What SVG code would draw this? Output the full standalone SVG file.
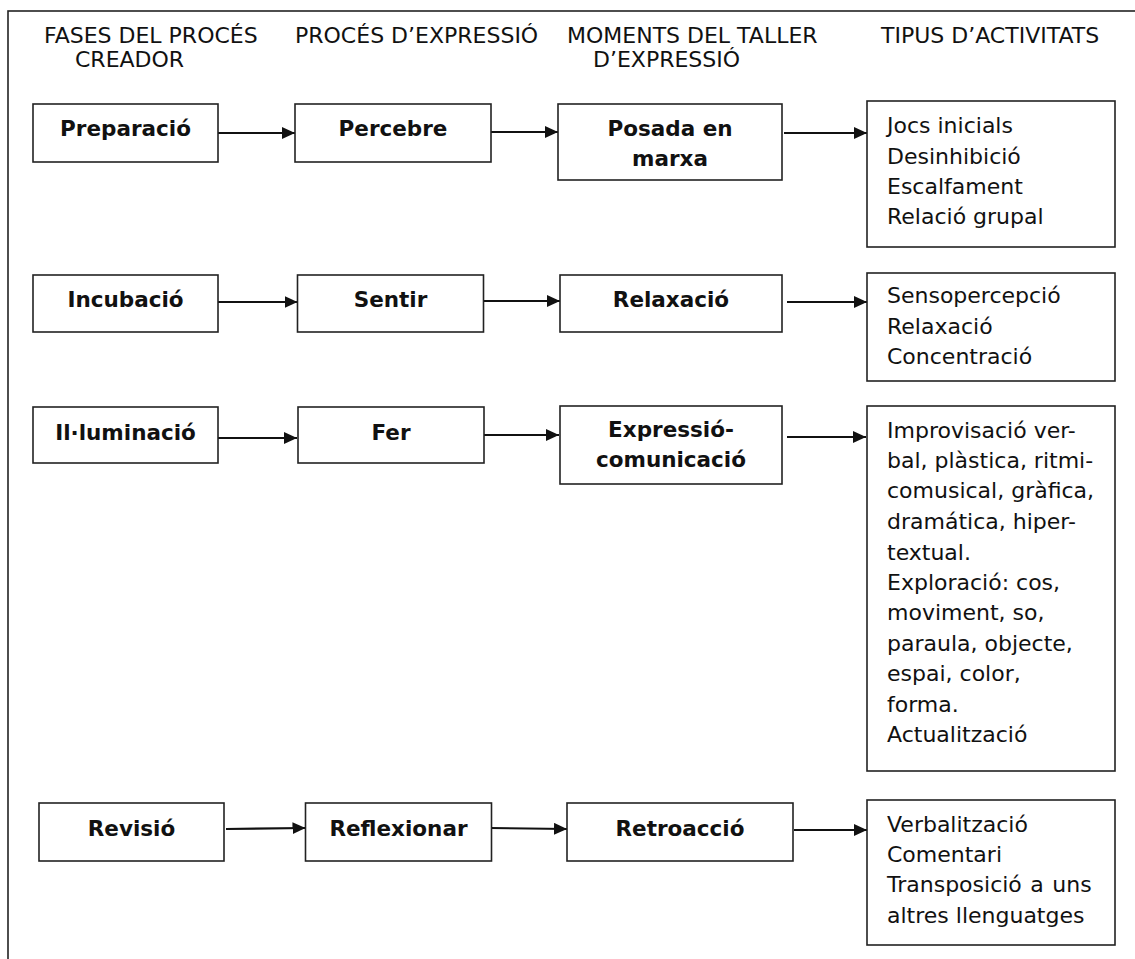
<svg xmlns="http://www.w3.org/2000/svg" width="1135" height="959" viewBox="0 0 1135 959">
<defs>
<style>
text{font-family:"DejaVu Sans",Verdana,"Liberation Sans",sans-serif;font-size:22px;fill:#111}
.b{font-weight:bold;text-anchor:middle;font-size:21.5px}
.box{fill:#fff;stroke:#222;stroke-width:1.6}
.frame{fill:none;stroke:#222;stroke-width:1.6}
.c line{stroke:#111;stroke-width:2.2}
</style>
<marker id="ah" viewBox="0 0 13 12" refX="13" refY="6" markerWidth="13" markerHeight="12" markerUnits="userSpaceOnUse" orient="auto">
<path d="M0,0 L13,6 L0,12 Z" fill="#111"/>
</marker>
</defs>
<rect width="1135" height="959" fill="#fff"/>
<rect class="frame" x="8" y="11" width="1200" height="1000"/>

<g id="headers">
<text x="44" y="43">FASES DEL PROCÉS</text>
<text x="75" y="67">CREADOR</text>
<text x="295" y="43">PROCÉS D’EXPRESSIÓ</text>
<text x="567" y="43">MOMENTS DEL TALLER</text>
<text x="593" y="67">D’EXPRESSIÓ</text>
<text x="881" y="43">TIPUS D’ACTIVITATS</text>
</g>

<g class="c" id="connectors">
<line x1="215" y1="133" x2="295" y2="133" marker-end="url(#ah)"/>
<line x1="477" y1="132" x2="558" y2="132" marker-end="url(#ah)"/>
<line x1="784" y1="133" x2="867" y2="133" marker-end="url(#ah)"/>
<line x1="218" y1="302" x2="297.5" y2="302" marker-end="url(#ah)"/>
<line x1="480" y1="301" x2="560" y2="301" marker-end="url(#ah)"/>
<line x1="787" y1="302" x2="867" y2="302" marker-end="url(#ah)"/>
<line x1="218" y1="438" x2="297" y2="438" marker-end="url(#ah)"/>
<line x1="480" y1="435" x2="559" y2="435" marker-end="url(#ah)"/>
<line x1="787" y1="437" x2="866" y2="437" marker-end="url(#ah)"/>
<line x1="226" y1="829" x2="305.5" y2="828" marker-end="url(#ah)"/>
<line x1="490" y1="828" x2="567" y2="829" marker-end="url(#ah)"/>
<line x1="794" y1="830" x2="867" y2="830" marker-end="url(#ah)"/>
</g>

<g id="n-preparacio"><rect class="box" x="33" y="104" width="185" height="58"/><text class="b" x="125.5" y="136">Preparació</text></g>
<g id="n-percebre"><rect class="box" x="295" y="104" width="196" height="58"/><text class="b" x="393" y="136">Percebre</text></g>
<g id="n-posada"><rect class="box" x="558" y="104" width="224" height="76"/><text class="b" x="670" y="136">Posada en</text><text class="b" x="670" y="166">marxa</text></g>
<g id="n-act1"><rect class="box" x="867" y="101" width="248" height="146"/>
<text x="887" y="133">Jocs inicials</text>
<text x="887" y="164">Desinhibició</text>
<text x="887" y="194">Escalfament</text>
<text x="887" y="224">Relació grupal</text></g>

<g id="n-incubacio"><rect class="box" x="33" y="275" width="185" height="57"/><text class="b" x="125.5" y="307">Incubació</text></g>
<g id="n-sentir"><rect class="box" x="297.5" y="275" width="186" height="57"/><text class="b" x="390.5" y="307">Sentir</text></g>
<g id="n-relaxacio"><rect class="box" x="560" y="275" width="222" height="57"/><text class="b" x="671" y="307">Relaxació</text></g>
<g id="n-act2"><rect class="box" x="867" y="273" width="248" height="108"/>
<text x="887" y="303">Sensopercepció</text>
<text x="887" y="334">Relaxació</text>
<text x="887" y="364">Concentració</text></g>

<g id="n-illuminacio"><rect class="box" x="33" y="407" width="185" height="56"/><text class="b" x="125.5" y="440">Il·luminació</text></g>
<g id="n-fer"><rect class="box" x="298" y="407" width="186" height="56"/><text class="b" x="391" y="440">Fer</text></g>
<g id="n-expressio"><rect class="box" x="560" y="406" width="222" height="78"/><text class="b" x="671" y="437">Expressió-</text><text class="b" x="671" y="467">comunicació</text></g>
<g id="n-act3"><rect class="box" x="867" y="406" width="248" height="365"/>
<text x="887" y="438">Improvisació ver-</text>
<text x="887" y="468">bal, plàstica, ritmi-</text>
<text x="887" y="498">comusical, gràfica,</text>
<text x="887" y="529">dramática, hiper-</text>
<text x="887" y="560">textual.</text>
<text x="887" y="590">Exploració: cos,</text>
<text x="887" y="620">moviment, so,</text>
<text x="887" y="651">paraula, objecte,</text>
<text x="887" y="681">espai, color,</text>
<text x="887" y="712">forma.</text>
<text x="887" y="742">Actualització</text></g>

<g id="n-revisio"><rect class="box" x="39" y="803" width="185" height="58"/><text class="b" x="131.5" y="836">Revisió</text></g>
<g id="n-reflexionar"><rect class="box" x="305.5" y="803" width="186" height="58"/><text class="b" x="398.5" y="836">Reflexionar</text></g>
<g id="n-retroaccio"><rect class="box" x="567" y="803" width="226" height="58"/><text class="b" x="680" y="836">Retroacció</text></g>
<g id="n-act4"><rect class="box" x="867" y="800" width="248" height="145"/>
<text x="887" y="832">Verbalització</text>
<text x="887" y="862">Comentari</text>
<text x="887" y="892" word-spacing="1.5">Transposició a uns</text>
<text x="887" y="923">altres llenguatges</text></g>
</svg>
